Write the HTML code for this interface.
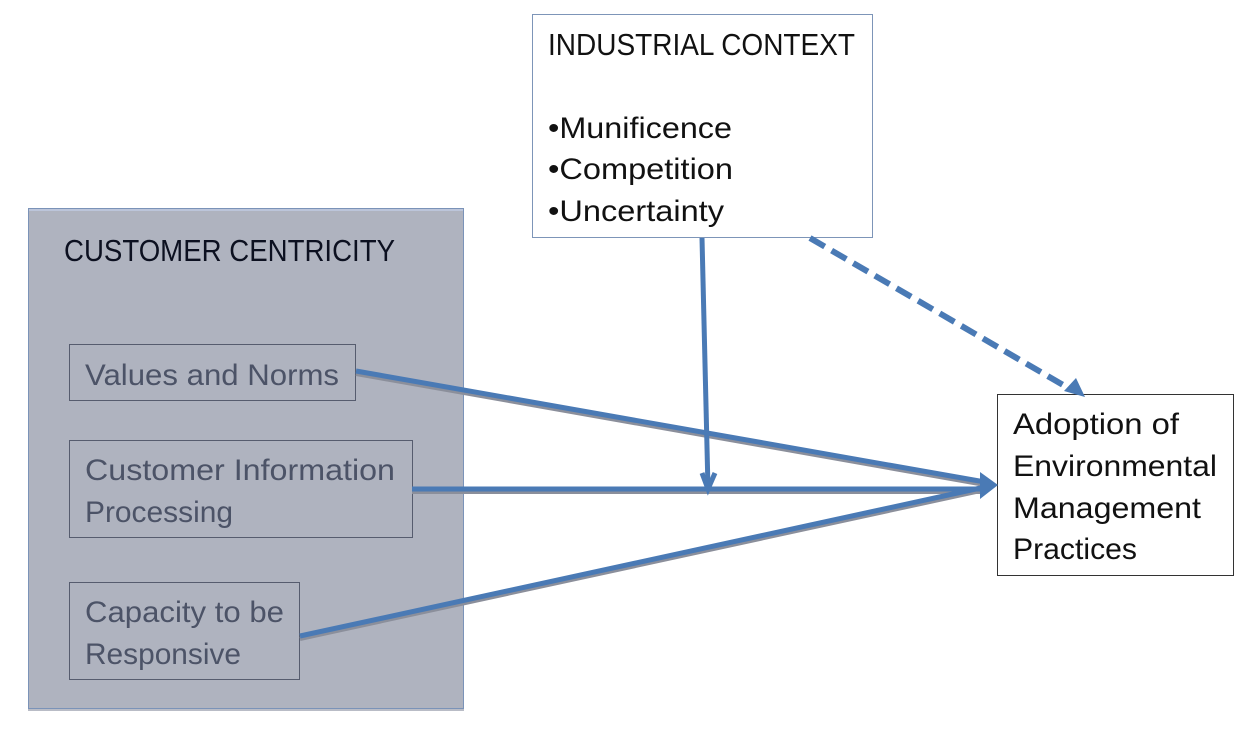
<!DOCTYPE html>
<html>
<head>
<meta charset="utf-8">
<style>
html,body{margin:0;padding:0;background:#fff;width:1246px;height:753px;overflow:hidden}
svg{display:block}
text{font-family:"Liberation Sans",sans-serif;font-size:30px}
.d{fill:#111}
.g{fill:#4c5367}
</style>
</head>
<body>
<svg width="1246" height="753" viewBox="0 0 1246 753" xmlns="http://www.w3.org/2000/svg">
<rect x="0" y="0" width="1246" height="753" fill="#fff"/>
<!-- Customer centricity panel -->
<rect x="28" y="708" width="436" height="3" fill="#b9bcc6"/>
<rect x="28.5" y="208.500" width="435" height="500" fill="#afb3bf" stroke="#7b93b8" stroke-width="1"/>
<rect x="29" y="209" width="434" height="2" fill="#bcc5da"/>
<rect x="69.5" y="344.5" width="286" height="56" fill="none" stroke="#565c6e" stroke-width="1"/>
<rect x="69.5" y="440.5" width="343" height="97" fill="none" stroke="#565c6e" stroke-width="1"/>
<rect x="69.5" y="582.5" width="230" height="97" fill="none" stroke="#565c6e" stroke-width="1"/>
<text x="64" y="261" class="d" textLength="331" lengthAdjust="spacingAndGlyphs" style="fill:#0c1020;font-size:31px">CUSTOMER CENTRICITY</text>
<text x="85" y="385" class="g" textLength="254" lengthAdjust="spacingAndGlyphs">Values and Norms</text>
<text x="85" y="480" class="g" textLength="310" lengthAdjust="spacingAndGlyphs">Customer Information</text>
<text x="85" y="522" class="g" textLength="148" lengthAdjust="spacingAndGlyphs">Processing</text>
<text x="85" y="622" class="g" textLength="199" lengthAdjust="spacingAndGlyphs">Capacity to be</text>
<text x="85" y="664" class="g" textLength="156" lengthAdjust="spacingAndGlyphs">Responsive</text>
<!-- Industrial context -->
<rect x="532.5" y="14.5" width="340" height="223" fill="#fff" stroke="#7d95b8" stroke-width="1"/>
<text x="548" y="55" class="d" textLength="307" lengthAdjust="spacingAndGlyphs" style="font-size:31px">INDUSTRIAL CONTEXT</text>
<text x="548" y="138" class="d" textLength="184" lengthAdjust="spacingAndGlyphs">•Munificence</text>
<text x="548" y="179" class="d" textLength="185" lengthAdjust="spacingAndGlyphs">•Competition</text>
<text x="548" y="221" class="d" textLength="176" lengthAdjust="spacingAndGlyphs">•Uncertainty</text>
<!-- Adoption -->
<rect x="997.5" y="394.5" width="236" height="181" fill="#fff" stroke="#333" stroke-width="1"/>
<text x="1013" y="434" class="d" textLength="166" lengthAdjust="spacingAndGlyphs">Adoption of</text>
<text x="1013" y="476" class="d" textLength="204" lengthAdjust="spacingAndGlyphs">Environmental</text>
<text x="1013" y="518" class="d" textLength="188" lengthAdjust="spacingAndGlyphs">Management</text>
<text x="1013" y="559" class="d" textLength="124" lengthAdjust="spacingAndGlyphs">Practices</text>
<!-- Connector shadows -->
<g stroke="#8b8f9b" stroke-width="4" fill="none">
<line x1="356" y1="374" x2="985" y2="485"/>
<line x1="412" y1="492" x2="985" y2="492"/>
<line x1="300" y1="639" x2="985" y2="490"/>
</g>
<!-- Connectors -->
<g stroke="#4a7ab5" stroke-width="5" fill="none">
<line x1="356" y1="371" x2="985" y2="482"/>
<line x1="412" y1="489" x2="985" y2="489"/>
<line x1="300" y1="636" x2="985" y2="487"/>
<line x1="702" y1="238" x2="708" y2="489"/>
<line x1="810" y1="238" x2="1070" y2="389" stroke-dasharray="17 8" stroke-width="6"/>
<polyline points="702,473 708,489 715,473" stroke-width="5"/>
</g>
<polygon points="980,472 998,485 980,499" fill="#4a7ab5"/>
<polygon points="1064,391 1076,378 1085,397" fill="#4a7ab5"/>
</svg>
</body>
</html>
